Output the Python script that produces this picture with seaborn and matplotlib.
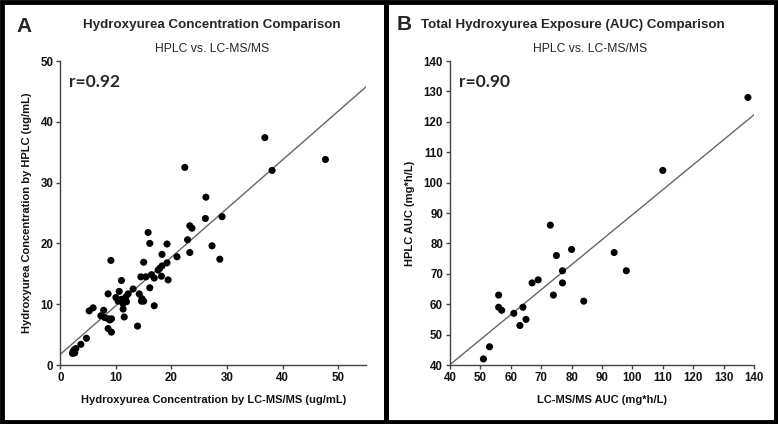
import numpy as np
import pandas as pd
import matplotlib
matplotlib.use("Agg")
import matplotlib.pyplot as plt
import seaborn as sns
from matplotlib.patches import Rectangle

# ---------------- data ----------------
conc_lcms = [2.2, 2.3, 2.5, 2.6, 2.8, 3.7, 4.7, 5.2, 5.9, 7.8, 7.3, 8.0, 8.6, 9.2, 8.9,
             8.6, 9.2, 8.6, 9.1, 10.6, 10.0, 10.4, 11.0, 11.8, 12.2, 11.3, 11.9, 11.3,
             11.5, 11.0, 13.1, 13.9, 14.2, 14.7, 14.6, 15.0, 16.9, 16.1, 14.5, 15.4,
             16.4, 16.9, 18.2, 19.4, 15.0, 17.6, 17.9, 18.3, 19.2, 18.3, 21.0, 15.8,
             16.1, 19.2, 22.9, 23.3, 27.3, 28.7, 23.3, 23.7, 26.1, 29.1, 26.2, 22.4,
             36.8, 38.1, 47.7]
conc_hplc = [1.9, 2.2, 2.5, 2.0, 2.7, 3.4, 4.4, 8.9, 9.4, 9.0, 8.1, 7.8, 7.6, 7.6, 7.4,
             6.0, 5.4, 11.7, 17.2, 12.1, 11.1, 10.5, 10.8, 11.2, 11.7, 10.1, 10.4, 9.2,
             7.9, 13.9, 12.5, 6.4, 11.7, 10.9, 10.5, 10.5, 9.75, 12.7, 14.5, 14.5,
             14.85, 14.3, 14.6, 14.0, 16.9, 15.6, 15.9, 16.3, 16.8, 18.2, 17.8, 21.8,
             20.0, 19.9, 20.6, 18.5, 19.6, 17.4, 22.9, 22.5, 24.1, 24.4, 27.6, 32.5,
             37.4, 32.0, 33.8]

auc_lcms = [73, 75, 80, 77, 77, 74, 67, 69, 84, 94, 98, 56, 56, 57, 61, 64, 65, 63,
            53, 51, 110, 138]
auc_hplc = [86, 76, 78, 71, 67, 63, 67, 68, 61, 77, 71, 63, 59, 58, 57, 59, 55, 53,
            46, 42, 104, 128]

ticks_a = [0, 10, 20, 30, 40, 50]
ticks_b = [40, 50, 60, 70, 80, 90, 100, 110, 120, 130, 140]

df_a = pd.DataFrame({"lcms": conc_lcms, "hplc": conc_hplc})
df_b = pd.DataFrame({"lcms": auc_lcms, "hplc": auc_hplc})

# ---------------- style ----------------
sns.set_theme(style="ticks")
plt.rcParams["font.family"] = ["Liberation Sans", "DejaVu Sans"]

fig = plt.figure(figsize=(7.78, 4.24), dpi=100)
W, H = 778.0, 424.0

ax_a = fig.add_axes([60.3 / W, (H - 365) / H, 305.7 / W, 304 / H])
ax_b = fig.add_axes([450 / W, (H - 365) / H, 304 / W, 304 / H])

spine_col = "#444444"

for ax, df in [(ax_a, df_a), (ax_b, df_b)]:
    ax.set_xlim(*((0, 55) if ax is ax_a else (40, 140)))
    sns.regplot(data=df, x="lcms", y="hplc", ax=ax, ci=None, truncate=False,
                scatter_kws=dict(s=26, color="black", edgecolor="none", alpha=1,
                                 zorder=3),
                line_kws=dict(color="#666666", lw=1.0, zorder=2))


def style_axes(ax, xlim, ylim, xt, yt, xlabel, ylabel):
    ax.set_xlim(*xlim)
    ax.set_ylim(*ylim)
    ax.set_xticks(xt)
    ax.set_yticks(yt)
    for s in ["top", "right"]:
        ax.spines[s].set_visible(False)
    for s in ["left", "bottom"]:
        ax.spines[s].set_color(spine_col)
        ax.spines[s].set_linewidth(1.0)
    ax.tick_params(axis="both", direction="out", length=3, width=1,
                   color=spine_col, labelsize=8.3, pad=2, labelcolor="#111111")
    for lab in ax.get_xticklabels() + ax.get_yticklabels():
        lab.set_fontweight("bold")
    ax.set_xlabel(xlabel, fontsize=8, fontweight="bold", labelpad=8, color="#111111")
    ax.set_ylabel(ylabel, fontsize=8, fontweight="bold", labelpad=6, color="#111111")


style_axes(ax_a, (0, 55), (0, 50), ticks_a, ticks_a,
           "Hydroxyurea Concentration by LC-MS/MS (ug/mL)",
           "Hydroxyurea Concentration by HPLC (ug/mL)")
style_axes(ax_b, (40, 140), (40, 140), ticks_b, ticks_b,
           "LC-MS/MS AUC (mg*h/L)", "HPLC AUC (mg*h/L)")

# r values
ax_a.text(0.03, 0.93, "r=0.92", transform=ax_a.transAxes, fontsize=12.5,
          fontweight="bold", family=["Lato", "DejaVu Sans"], va="center", ha="left")
ax_b.text(0.03, 0.93, "r=0.90", transform=ax_b.transAxes, fontsize=12.5,
          fontweight="bold", family=["Lato", "DejaVu Sans"], va="center", ha="left")

# titles
fig.text(24 / W, 1 - 26 / H, "A", fontsize=15, fontweight="bold", ha="center", va="center")
fig.text(212 / W, 1 - 25 / H, "Hydroxyurea Concentration Comparison", fontsize=9.6,
         fontweight="bold", ha="center", va="center")
fig.text(212 / W, 1 - 49 / H, "HPLC vs. LC-MS/MS", fontsize=8.7, ha="center", va="center")

fig.text(404 / W, 1 - 25 / H, "B", fontsize=15, fontweight="bold", ha="center", va="center")
fig.text(573 / W, 1 - 25 / H, "Total Hydroxyurea Exposure (AUC) Comparison", fontsize=9.6,
         fontweight="bold", ha="center", va="center")
fig.text(590 / W, 1 - 49 / H, "HPLC vs. LC-MS/MS", fontsize=8.7, ha="center", va="center")

# panel borders
for (x0, x1) in [(2, 386), (386, 776)]:
    fig.patches.append(Rectangle((x0 / W, 2 / H), (x1 - x0) / W, (H - 4) / H,
                                 transform=fig.transFigure, fill=False,
                                 edgecolor="black", linewidth=3.5, zorder=10))

fig.savefig("out.png", dpi=100)
